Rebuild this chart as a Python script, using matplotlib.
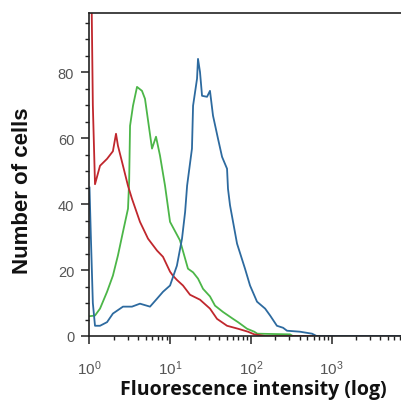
import matplotlib
matplotlib.use('Agg')
import matplotlib.pyplot as plt
import numpy as np
from matplotlib.ticker import LogLocator, MultipleLocator, LogFormatterSciNotation, NullFormatter

# Flow cytometry histograms (intensity, number of cells)
red_x = [1.0, 1.04, 1.10, 1.17, 1.35, 1.65, 1.95, 2.13, 2.25, 2.6, 3.0, 3.36, 4.22, 5.31,
         6.86, 8.14, 9.95, 10.8, 12.1, 14.4, 17.6, 23.4, 31.1, 38.0, 50.6, 69.2, 92.0,
         110, 150, 1000, 7500]
red_y = [140, 120, 70, 46, 51.6, 53.7, 56, 61.3, 57.7, 51.6, 45.5, 41.6, 34.6, 29.5,
         25.9, 24, 19.5, 18.3, 17, 15.3, 12.5, 11, 8.3, 5.2, 3.1, 2.2, 1.3,
         0.5, 0, 0, 0]

green_x = [1.0, 1.17, 1.35, 1.65, 1.95, 2.25, 2.6, 3.0, 3.1, 3.18, 3.46, 3.88, 4.47, 4.87,
           5.95, 6.67, 7.47, 8.62, 9.95, 13.2, 16.6, 19.2, 22.1, 25.5, 31.1, 35.9, 45,
           60, 69.2, 79.8, 89.5, 110, 120, 305, 330, 7500]
green_y = [6, 6.2, 8.3, 13.4, 18.3, 24.4, 31.6, 38.6, 47, 63.7, 69.8, 75.5, 74.3, 71.9,
           56.8, 60.4, 54.7, 45.6, 34.6, 29, 20.4, 19.3, 17.4, 14.3, 12, 9.2, 7.3,
           5.2, 4.2, 3.1, 2.2, 1.3, 0.7, 0.5, 0, 0]

blue_x = [1.0, 1.04, 1.10, 1.17, 1.35, 1.65, 1.95, 2.6, 3.36, 4.22, 5.62, 6.86, 8.14, 9.95,
          12.1, 14.0, 15.3, 16.2, 18.6, 19.2, 21.5, 22.1, 23.4, 24.8, 28.6, 31.1, 33.9,
          39.1, 43.9, 50.6, 52, 55.1, 67.3, 84.5, 97.5, 119, 150, 173, 210, 250, 280,
          406, 572, 650, 7500]
blue_y = [45, 30, 10, 3.1, 3.1, 4.2, 6.8, 8.9, 8.9, 9.8, 8.9, 11.3, 13.4, 15.3,
          21.3, 29.5, 37.6, 45.6, 56.8, 69.8, 78, 84, 80, 72.8, 72.5, 74.3, 66.8,
          59.8, 54.3, 50.7, 44.6, 39.6, 28, 20.4, 15.3, 10.4, 8.3, 6.2, 3.1, 2.5, 1.6,
          1.3, 0.7, 0, 0]

x_ticks = [1, 10, 100, 1000]
y_ticks = [0, 20, 40, 60, 80]

fig = plt.figure(figsize=(4.02, 4.06), dpi=100)
ax = fig.add_axes([89.5 / 402, 69 / 406, (402 - 89.5) / 402, 323 / 406])

ax.plot(green_x, green_y, color='#4cb648', linewidth=1.3)
ax.plot(red_x, red_y, color='#c0272d', linewidth=1.3)
ax.plot(blue_x, blue_y, color='#2d6a9f', linewidth=1.3)

ax.set_xscale('log')
ax.set_xlim(1, 10 ** 3.872)
ax.set_ylim(0, 97.9)

ax.xaxis.set_major_locator(LogLocator(base=10, numticks=10))
ax.xaxis.set_minor_locator(LogLocator(base=10, subs=np.arange(2, 10), numticks=20))
ax.xaxis.set_major_formatter(LogFormatterSciNotation())
ax.xaxis.set_minor_formatter(NullFormatter())
ax.set_xticks(x_ticks)
ax.set_yticks(y_ticks)
ax.yaxis.set_minor_locator(MultipleLocator(5))

ax.spines['right'].set_visible(False)
for s in ['left', 'top', 'bottom']:
    ax.spines[s].set_linewidth(1.2)
    ax.spines[s].set_color('#222222')

ax.tick_params(axis='both', which='major', direction='out', length=6, width=1.1,
               color='#222222', labelcolor='#555555', labelsize=10.5)
ax.tick_params(axis='both', which='minor', direction='out', length=3, width=1.0, color='#222222')
ax.tick_params(axis='x', which='major', pad=10, labelsize=11)
ax.tick_params(axis='y', which='major', pad=5)
for lab in ax.get_xticklabels() + ax.get_yticklabels():
    lab.set_family('Liberation Sans')

fig.text(253 / 402, 1 - 390 / 406, 'Fluorescence intensity (log)', ha='center', va='center',
         fontsize=14, fontweight='bold', family='Open Sans', color='#111111')
fig.text(23 / 402, 1 - 191 / 406, 'Number of cells', ha='center', va='center', rotation=90,
         fontsize=16, fontweight='bold', family='Liberation Sans', color='#111111')

plt.savefig('out.png', dpi=100)
